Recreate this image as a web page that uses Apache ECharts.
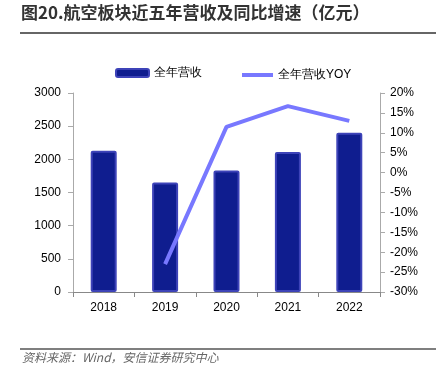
<!DOCTYPE html>
<html><head><meta charset="utf-8">
<script src="https://cdn.jsdelivr.net/npm/echarts@6/dist/echarts.min.js"></script>
<style>html,body{margin:0;padding:0;background:#fff}#c{width:444px;height:379px}</style>
</head><body><div id="c"></div>
<script>
var categories = ['2018','2019','2020','2021','2022'];
var revenue = [2130, 1650, 1830, 2110, 2400];
var yoy = [null, -23.0, 11.5, 16.7, 13.0];
var leftTicks = [0, 3000, 500];
var rightTicks = [-30, 20, 5];

var chart = echarts.init(document.getElementById('c'));
var font = 'Liberation Sans, Arial, sans-serif';
chart.setOption({
  animation: false,
  textStyle: {fontFamily: font},
  graphic: [
    {type:'text', left:21, top:4, style:{text:'图20.航空板块近五年营收及同比增速（亿元）', font:'bold 17px "Noto Sans CJK SC", sans-serif', fill:'#333'}},
    {type:'line', shape:{x1:20,y1:33,x2:436,y2:33}, style:{stroke:'#333', lineWidth:1.5}},
    {type:'line', shape:{x1:20,y1:349,x2:436,y2:349}, style:{stroke:'#555', lineWidth:1.5}},
    {type:'text', left:22, top:351, style:{text:'资料来源：Wind，安信证券研究中心', font:'italic 12px "Noto Sans CJK SC", sans-serif', fill:'#666'}}
  ],
  legend: [{
    top: 62, left: 110, itemWidth: 33, itemHeight: 8,
    textStyle: {fontSize: 12, color: '#000', fontFamily: font},
    data: [{name:'全年营收', icon:'roundRect'}]
  }, {
    top: 64, left: 237, itemWidth: 31, itemHeight: 4,
    textStyle: {fontSize: 12, color: '#000', fontFamily: font},
    data: [{name:'全年营收YOY', icon:'rect'}]
  }],
  grid: {left: 73, right: 64, top: 93, bottom: 87},
  xAxis: {
    type: 'category', data: categories,
    axisLine: {lineStyle: {color: '#888'}},
    axisTick: {show: true, alignWithLabel: false, lineStyle:{color:'#888'}},
    axisLabel: {color: '#000', fontSize: 12, margin: 10}
  },
  yAxis: [
    {type:'value', min:leftTicks[0], max:leftTicks[1], interval:leftTicks[2],
     axisLine:{show:true, lineStyle:{color:'#aaa'}}, axisTick:{show:true, inside:false, lineStyle:{color:'#aaa'}},
     splitLine:{show:false}, axisLabel:{color:'#000', fontSize:12, margin:12, formatter:function(v){return String(v);}}},
    {type:'value', min:rightTicks[0], max:rightTicks[1], interval:rightTicks[2],
     axisLine:{show:true, lineStyle:{color:'#aaa'}}, axisTick:{show:true, lineStyle:{color:'#aaa'}},
     splitLine:{show:false}, axisLabel:{color:'#000', fontSize:12, margin:10, formatter:'{value}%'}}
  ],
  series: [
    {name:'全年营收', type:'bar', data:revenue, barWidth:26,
     itemStyle:{color:'#0f1d8f', borderColor:'#3d43b8', borderWidth:2, borderRadius:1}},
    {name:'全年营收YOY', type:'line', yAxisIndex:1, data:yoy, showSymbol:false, symbol:'none',
     lineStyle:{color:'#7878ff', width:4}, itemStyle:{color:'#7878ff'}}
  ]
});
</script></body></html>
